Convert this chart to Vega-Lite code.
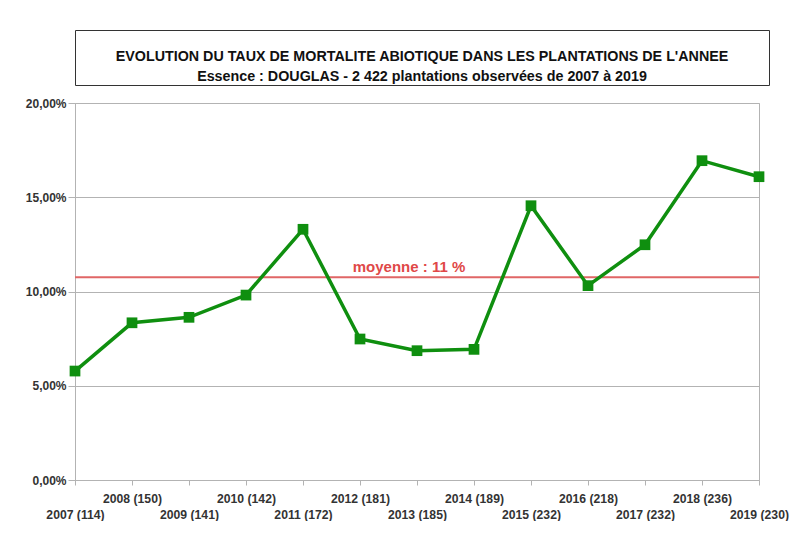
{
  "$schema": "https://vega.github.io/schema/vega-lite/v6.json",
  "background": "white",
  "padding": {"left": 24, "top": 29, "right": 2, "bottom": 0},
  "spacing": 10,
  "config": {
    "font": "Liberation Sans",
    "view": {"stroke": null}
  },
  "vconcat": [
    {
      "width": 694,
      "height": 55,
      "view": {"stroke": "#333333", "strokeWidth": 1, "fill": "white"},
      "data": {"values": [{}]},
      "mark": {
        "type": "text",
        "text": [
          "EVOLUTION DU TAUX DE MORTALITE ABIOTIQUE DANS LES PLANTATIONS DE L'ANNEE",
          "Essence : DOUGLAS - 2 422 plantations observées de 2007 à 2019"
        ],
        "font": "Liberation Sans",
        "fontSize": 14.3,
        "fontWeight": "bold",
        "lineHeight": 20,
        "color": "#111111",
        "align": "center",
        "baseline": "middle",
        "dy": -1
      },
      "encoding": {}
    },
    {
      "width": 684,
      "height": 377,
      "view": {"stroke": "#b3b3b3", "strokeWidth": 1},
      "encoding": {
        "x": {
          "field": "annee",
          "type": "ordinal",
          "sort": null,
          "title": null,
          "scale": {"type": "point", "padding": 0},
          "axis": {
            "labelAngle": 0,
            "labelExpr": "toNumber(slice(datum.label, 0, 4)) % 2 == 1 ? ['', datum.label] : [datum.label, '']",
            "labelFont": "Liberation Sans",
            "labelFontWeight": "bold",
            "labelFontSize": 12.2,
            "labelColor": "#333333",
            "labelLineHeight": 16,
            "labelPadding": 7,
            "labelBaseline": "top",
            "labelOverlap": false,
            "labelBound": false,
            "tickSize": 5,
            "tickColor": "#b3b3b3",
            "domainColor": "#b3b3b3",
            "grid": false
          }
        }
      },
      "layer": [
        {
          "data": {"values": [{"moyenne": 0.1076}]},
          "mark": {"type": "rule", "color": "#e06666", "strokeWidth": 2},
          "encoding": {
            "x": null,
            "y": {"field": "moyenne", "type": "quantitative"}
          }
        },
        {
          "data": {"values": [{"moyenne": 0.1076}]},
          "transform": [
            {"calculate": "'moyenne : ' + format(datum.moyenne * 100, '.0f') + ' %'", "as": "etiquette"}
          ],
          "mark": {
            "type": "text",
            "font": "Liberation Sans",
            "fontSize": 15,
            "fontWeight": "bold",
            "color": "#e04848",
            "align": "center",
            "baseline": "alphabetic",
            "dx": -8,
            "dy": -5
          },
          "encoding": {
            "x": null,
            "y": {"field": "moyenne", "type": "quantitative"},
            "text": {"field": "etiquette", "type": "nominal"}
          }
        },
        {
          "data": {
            "values": [
              {"annee": "2007 (114)", "taux": 0.0578},
              {"annee": "2008 (150)", "taux": 0.0834},
              {"annee": "2009 (141)", "taux": 0.0863},
              {"annee": "2010 (142)", "taux": 0.0981},
              {"annee": "2011 (172)", "taux": 0.1330},
              {"annee": "2012 (181)", "taux": 0.0748},
              {"annee": "2013 (185)", "taux": 0.0686},
              {"annee": "2014 (189)", "taux": 0.0693},
              {"annee": "2015 (232)", "taux": 0.1455},
              {"annee": "2016 (218)", "taux": 0.1031},
              {"annee": "2017 (232)", "taux": 0.1248},
              {"annee": "2018 (236)", "taux": 0.1694},
              {"annee": "2019 (230)", "taux": 0.1609}
            ]
          },
          "mark": {
            "type": "line",
            "color": "#0f8f0f",
            "strokeWidth": 3.5,
            "point": {"shape": "square", "size": 115, "filled": true, "color": "#0f8f0f", "opacity": 1}
          },
          "encoding": {
            "y": {
              "field": "taux",
              "type": "quantitative",
              "title": null,
              "scale": {"domain": [0, 0.2]},
              "axis": {
                "values": [0, 0.05, 0.1, 0.15, 0.2],
                "labelExpr": "replace(format(datum.value, '.2%'), '.', ',')",
                "labelFont": "Liberation Sans",
                "labelFontWeight": "bold",
                "labelFontSize": 12,
                "labelColor": "#333333",
                "labelPadding": 2,
                "tickSize": 7,
                "tickColor": "#b3b3b3",
                "domainColor": "#b3b3b3",
                "gridColor": "#b3b3b3",
                "grid": true
              }
            }
          }
        }
      ]
    }
  ]
}
